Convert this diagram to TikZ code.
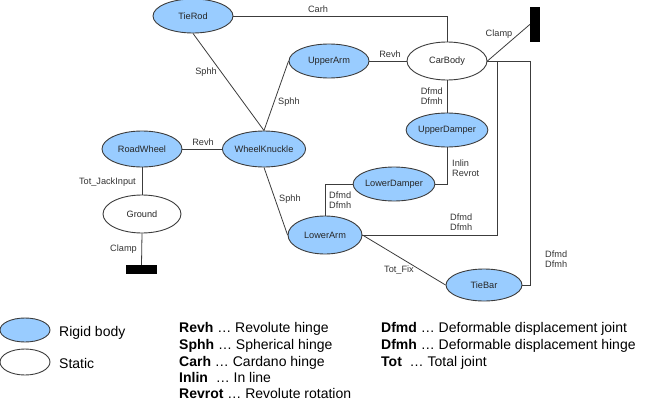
\documentclass[tikz,border=0pt]{standalone}
\usepackage{fontspec}
\setmainfont{Liberation Sans}
\usetikzlibrary{shapes.geometric}
\definecolor{rigidblue}{RGB}{153,204,255}
\definecolor{ln}{RGB}{60,60,60}
\begin{document}
\begin{tikzpicture}[x=1pt,y=-1pt,
  body/.style={ellipse, draw=ln, line width=0.9pt, inner sep=0pt, font=\fontsize{9.2}{10.5}\selectfont, text=black!85},
  rigidbody/.style={body, fill=rigidblue},
  staticbody/.style={body, fill=white},
  conn/.style={draw=ln, line width=0.8pt},
  lbl/.style={font=\fontsize{9.2}{10.5}\selectfont, text=black!80, inner sep=0pt, align=left},
  leg/.style={font=\fontsize{14}{17}\selectfont, inner sep=0pt, anchor=base west},
  clampblk/.style={fill=black, draw=none, inner sep=0pt}
]
\useasboundingbox (0,0) rectangle (650,404);

% bodies
\node[rigidbody, minimum width=80pt, minimum height=34pt] (tierod) at (193,16) {TieRod};
\node[rigidbody, minimum width=80pt, minimum height=34pt] (upperarm) at (329,61) {UpperArm};
\node[staticbody, minimum width=80pt, minimum height=38pt] (carbody) at (447,61) {CarBody};
\node[rigidbody, minimum width=80pt, minimum height=36pt] (roadwheel) at (142,149) {RoadWheel};
\node[rigidbody, minimum width=81pt, minimum height=36pt] (knuckle) at (264,149) {WheelKnuckle};
\node[rigidbody, minimum width=80pt, minimum height=34pt] (upperdamper) at (447,130) {UpperDamper};
\node[rigidbody, minimum width=80pt, minimum height=34pt] (lowerdamper) at (394,184) {LowerDamper};
\node[rigidbody, minimum width=74pt, minimum height=38pt] (lowerarm) at (325,235) {LowerArm};
\node[rigidbody, minimum width=76pt, minimum height=32pt] (tiebar) at (484,285) {TieBar};
\node[staticbody, minimum width=78pt, minimum height=38pt] (ground) at (142,214) {Ground};
\node[clampblk, minimum width=10pt, minimum height=35pt] (clampA) at (535,24.5) {};
\node[clampblk, minimum width=31pt, minimum height=9pt] (clampB) at (141.5,269.5) {};

\coordinate (j1) at (497,61);
\coordinate (j2) at (530,61);

% connectors
\draw[conn] (tierod.east) -| (carbody.north);
\draw[conn] (tierod.south) -- (knuckle.north);
\draw[conn] (upperarm.west) -- (knuckle.north);
\draw[conn] (upperarm.east) -- (carbody.west);
\draw[conn] (roadwheel.east) -- (knuckle.west);
\draw[conn] (roadwheel.south) -- (ground.north);
\draw[conn] (ground.south) -- (clampB.north);
\draw[conn] (carbody.east) -- (clampA.west);
\draw[conn] (carbody.south) -- (upperdamper.north);
\draw[conn] (upperdamper.south) |- (lowerdamper.east);
\draw[conn] (lowerdamper.west) -| (lowerarm.north);
\draw[conn] (carbody.east) -- (j2);
\draw[conn] (j1) |- (lowerarm.east);
\draw[conn] (j2) |- (tiebar.east);
\draw[conn] (knuckle.south) -- (lowerarm.west);
\draw[conn] (lowerarm.east) -- (tiebar.west);

% connector labels
\node[lbl] (lCarh) at (318,9) {Carh};
\node[lbl, anchor=east] (lSphh1) at (217,72) {Sphh};
\node[lbl, anchor=west] (lSphh2) at (278,102) {Sphh};
\node[lbl] (lRevh1) at (390,54) {Revh};
\node[lbl] (lRevh2) at (203,142) {Revh};
\node[lbl, anchor=east] (lJack) at (136,182) {Tot\_JackInput};
\node[lbl, anchor=east] (lClampB) at (137,249) {Clamp};
\node[lbl] (lClampA) at (499,34) {Clamp};
\node[lbl, anchor=east] (lD1) at (443,96) {Dfmd\\Dfmh};
\node[lbl, anchor=west] (lInlin) at (452,168) {Inlin\\Revrot};
\node[lbl, anchor=west] (lD2) at (329,200) {Dfmd\\Dfmh};
\node[lbl, anchor=west] (lD3) at (450,222) {Dfmd\\Dfmh};
\node[lbl, anchor=west] (lD4) at (545,259) {Dfmd\\Dfmh};
\node[lbl] (lFix) at (399,270) {Tot\_Fix};
\node[lbl, anchor=west] (lSphh3) at (279,199) {Sphh};

% legend
\node[rigidbody, minimum width=50pt, minimum height=24pt] (legR) at (25,330) {};
\node[staticbody, minimum width=50pt, minimum height=26pt] (legS) at (25,362) {};
\node[leg] (legRt) at (59,336.5) {Rigid body};
\node[leg] (legSt) at (59,368) {Static};

\node[leg] (k1) at (179,332.7) {\textbf{Revh} … Revolute hinge};
\node[leg] (k2) at (179,349.3) {\textbf{Sphh} … Spherical hinge};
\node[leg] (k3) at (179,366) {\textbf{Carh} … Cardano hinge};
\node[leg] (k4) at (179,382.7) {\textbf{Inlin}\ \ … In line};
\node[leg] (k5) at (179,398.3) {\textbf{Revrot} … Revolute rotation};

\node[leg] (k6) at (381,332.7) {\textbf{Dfmd} … Deformable displacement joint};
\node[leg] (k7) at (381,349.3) {\textbf{Dfmh} … Deformable displacement hinge};
\node[leg] (k8) at (381,366) {\textbf{Tot}\ \ … Total joint};
\end{tikzpicture}
\end{document}
